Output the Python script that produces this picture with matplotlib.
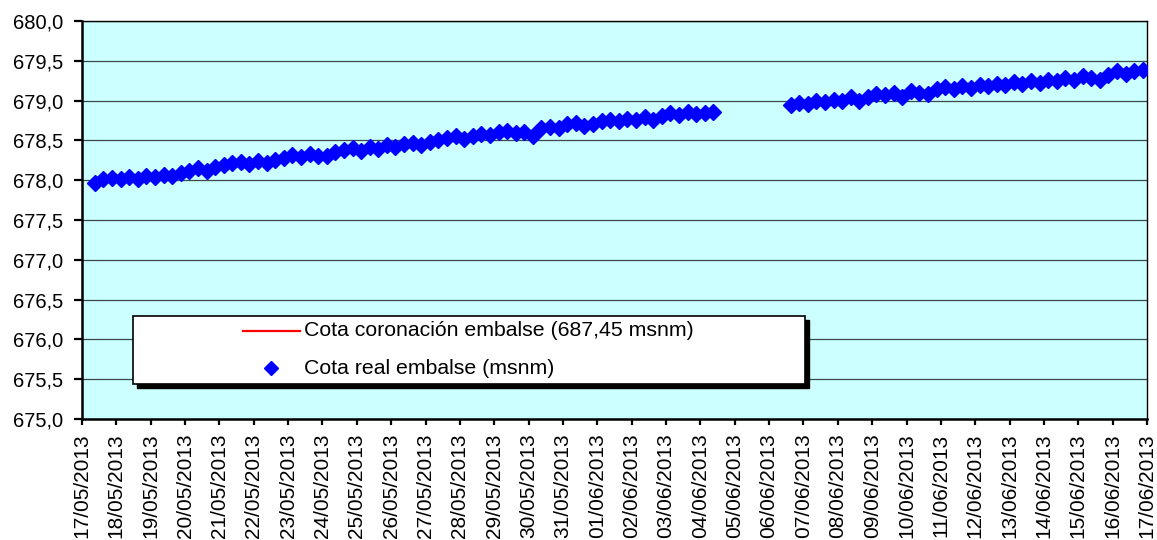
import numpy as np
import pandas as pd
import matplotlib
matplotlib.use("Agg")
import matplotlib.pyplot as plt
import matplotlib.dates as mdates
from matplotlib.patches import Rectangle
from matplotlib.lines import Line2D

plt.rcParams['font.family'] = ['Liberation Sans', 'DejaVu Sans']

# ---- data ----
seg1_start = "2013-05-17 09:00"
seg1_values = [
    677.97, 678.01, 678.03, 678.02,
    678.04, 678.02, 678.05, 678.04,
    678.07, 678.05, 678.09, 678.12,
    678.15, 678.11, 678.16, 678.19,
    678.21, 678.23, 678.20, 678.24,
    678.22, 678.26, 678.28, 678.32,
    678.29, 678.33, 678.30, 678.31,
    678.36, 678.38, 678.40, 678.37,
    678.42, 678.39, 678.44, 678.42,
    678.45, 678.47, 678.44, 678.48,
    678.50, 678.53, 678.55, 678.52,
    678.56, 678.58, 678.57, 678.60,
    678.62, 678.59, 678.61, 678.55,
    678.65, 678.67, 678.66, 678.70,
    678.72, 678.68, 678.71, 678.74,
    678.76, 678.74, 678.77, 678.75,
    678.79, 678.76, 678.81, 678.84,
    678.82, 678.86, 678.83, 678.85,
    678.86,
]
seg2_start = "2013-06-06 15:00"
seg2_values = [
    678.94, 678.97,
    678.96, 679.00, 678.98, 679.01,
    679.00, 679.04, 678.99, 679.05,
    679.08, 679.07, 679.10, 679.04,
    679.12, 679.10, 679.08, 679.15,
    679.17, 679.15, 679.18, 679.16,
    679.20, 679.18, 679.21, 679.19,
    679.23, 679.21, 679.25, 679.22,
    679.26, 679.24, 679.28, 679.26,
    679.31, 679.28, 679.26, 679.32,
    679.37, 679.34, 679.37, 679.38,
]
crest_level = 687.45
y_ticks = [675.0, 675.5, 676.0, 676.5, 677.0, 677.5, 678.0, 678.5, 679.0, 679.5, 680.0]
x_start = "2013-05-17"
x_end = "2013-06-17"
label_crest = "Cota coronación embalse (687,45 msnm)"
label_real = "Cota real embalse (msnm)"

t1 = pd.date_range(seg1_start, periods=len(seg1_values), freq="6h")
t2 = pd.date_range(seg2_start, periods=len(seg2_values), freq="6h")

W, H = 1157, 540
fig = plt.figure(figsize=(W / 100, H / 100), dpi=100)
fig.patch.set_facecolor("white")
ax = fig.add_axes([82 / W, 1 - 419 / H, 1065 / W, 398 / H])
ax.set_facecolor("#CCFFFF")

blue = "#0000FF"
ms = 7.8
ax.plot(t1, seg1_values, linestyle="none", marker="D", markersize=ms,
        color=blue, markeredgecolor=blue, zorder=3)
ax.plot(t2, seg2_values, linestyle="none", marker="D", markersize=ms,
        color=blue, markeredgecolor=blue, zorder=3)
ax.axhline(crest_level, color="red", lw=1.5)

ax.set_ylim(675.0, 680.0)
ax.set_xlim(pd.Timestamp(x_start), pd.Timestamp(x_end))
ax.set_yticks(y_ticks)
ax.set_yticklabels([f"{v:.1f}".replace(".", ",") for v in y_ticks])
ax.xaxis.set_major_locator(mdates.DayLocator())
ax.xaxis.set_major_formatter(mdates.DateFormatter("%d/%m/%Y"))
for lab in ax.get_xticklabels():
    lab.set_rotation(90)
    lab.set_ha("center")
    lab.set_va("top")

ax.grid(axis="y", color="#3a4a4a", lw=0.9)
ax.set_axisbelow(True)
ax.tick_params(axis="y", direction="out", length=6, width=1.6, pad=7.5,
               labelsize=14.5, colors="black")
ax.tick_params(axis="x", direction="out", length=4.5, width=1.6, pad=6,
               labelsize=15, colors="black")
for s in ["left", "bottom"]:
    ax.spines[s].set_linewidth(1.8)
    ax.spines[s].set_color("black")
for s in ["top", "right"]:
    ax.spines[s].set_linewidth(1.0)
    ax.spines[s].set_color("black")

# ---- legend (drawn in figure pixels) ----
def fx(px):
    return px / W

def fy(py):
    return 1 - py / H

lx0, lx1, ly0, ly1 = 133, 805, 316, 384
fig.add_artist(Rectangle((fx(lx0 + 4), fy(ly1 + 4)), fx(lx1 - lx0), (ly1 - ly0) / H,
                         transform=fig.transFigure, facecolor="black",
                         edgecolor="black", zorder=9))
fig.add_artist(Rectangle((fx(lx0), fy(ly1)), fx(lx1 - lx0), (ly1 - ly0) / H,
                         transform=fig.transFigure, facecolor="white",
                         edgecolor="black", lw=1.2, zorder=10))
fig.add_artist(Line2D([fx(243), fx(300)], [fy(331), fy(331)], color="red",
                      lw=1.6, transform=fig.transFigure, zorder=11))
fig.add_artist(Line2D([fx(271)], [fy(368)], marker="D", markersize=7.2,
                      color=blue, linestyle="none",
                      transform=fig.transFigure, zorder=11))
fig.text(fx(304), fy(331), label_crest, fontsize=15.3, va="center", ha="left",
         zorder=12)
fig.text(fx(304), fy(368), label_real, fontsize=15.3, va="center", ha="left",
         zorder=12)

fig.savefig("out.png", dpi=100)
